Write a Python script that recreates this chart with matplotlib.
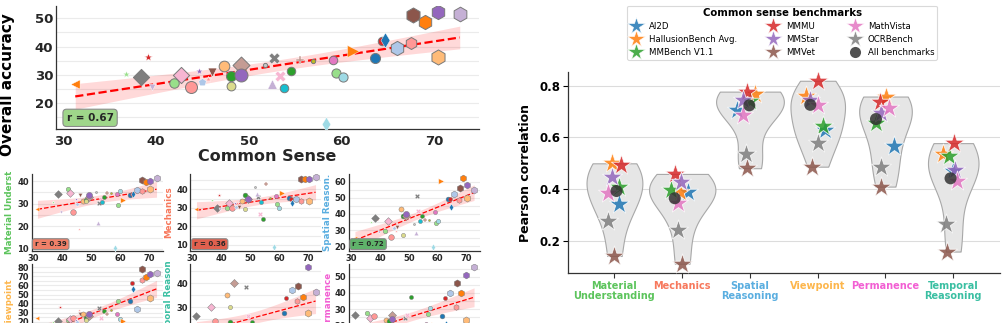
import numpy as np
import matplotlib
matplotlib.use("Agg")
import matplotlib.pyplot as plt
from matplotlib.ticker import MultipleLocator
from matplotlib.lines import Line2D

# ----------------------------- data (left figure) -----------------------------
COMMON_SENSE = [31.3, 36.8, 39.1, 38.4, 39.6, 41.9, 42.7, 43.8, 44.6, 45.0, 45.6, 46.0, 47.3, 48.1,
                48.1, 49.2, 49.2, 51.7, 52.7, 52.5, 53.3, 53.8, 54.5, 55.5, 56.9, 59.0, 59.4, 60.1,
                58.3, 61.2, 63.6, 64.3, 64.6, 65.9, 67.5, 67.7, 69.0, 70.4, 70.4, 72.7]
OVERALL = [26.8, 30.3, 36.4, 29.4, 25.6, 27.3, 30.0, 25.8, 31.4, 27.6, 28.4, 31.1, 33.1, 29.6,
           26.2, 33.5, 30.0, 33.5, 35.9, 26.8, 29.6, 25.3, 31.5, 35.3, 35.0, 35.3, 30.8, 29.4,
           12.7, 38.4, 35.9, 41.8, 42.3, 39.4, 41.4, 51.2, 48.6, 52.3, 36.4, 51.5]
MATERIAL = [27.5, 30.9, 34.2, 34.5, 26.5, 36.5, 34.6, 26.2, 31.9, 29.7, 18.7, 33.8, 31.3, 31.6,
            31.0, 32.8, 33.7, 35.3, 30.1, 21.3, 31.9, 30.9, 33.1, 34.9, 34.6, 34.3, 29.4, 35.8,
            10.6, 31.5, 33.8, 34.5, 34.3, 36.0, 35.7, 40.5, 39.4, 39.9, 36.6, 41.6]
MECHANICS = [29.4, 34.3, 36.9, 30.1, 29.4, 30.1, 32.8, 29.8, 32.5, 30.3, 32.0, 30.3, 33.7, 36.9,
             29.2, 35.0, 34.8, 41.4, 35.7, 37.3, 26.7, 33.0, 24.0, 42.9, 35.2, 36.4, 31.9, 30.1,
             8.6, 38.2, 35.2, 35.0, 32.8, 34.6, 33.7, 45.9, 45.6, 45.9, 33.9, 46.5]
SPATIAL = [25.0, 35.0, 37.0, 37.5, 29.0, 29.5, 35.5, 25.5, 31.0, 31.0, 29.5, 32.0, 43.0, 38.5,
           27.0, 39.0, 40.0, 33.5, 51.0, 28.0, 42.0, 35.5, 38.5, 36.5, 36.5, 41.0, 34.5, 35.5,
           19.5, 60.5, 49.0, 49.0, 44.5, 52.5, 48.5, 56.0, 62.5, 58.0, 50.0, 55.0]
VIEWPOINT = [24.4, 20.0, 36.6, 21.0, 8.0, 22.0, 22.5, 23.7, 22.0, 20.0, 33.0, 28.0, 29.0, 23.7,
             22.0, 26.0, 28.0, 15.0, 34.7, 6.0, 23.7, 10.0, 31.8, 28.0, 33.0, 28.5, 42.8, 23.0,
             3.0, 20.7, 43.2, 62.3, 56.0, 34.0, 66.0, 78.0, 69.7, 72.3, 45.8, 73.4]
TEMPORAL = [np.nan, np.nan, 16.0, 26.5, 14.0, 20.0, 30.0, 24.4, 18.0, 19.0, 17.0, 21.0, 35.1, 24.0,
            30.0, 40.0, 22.0, 20.0, 38.3, 15.0, 26.5, 18.0, 24.0, 21.0, 20.0, 22.0, 21.0, 22.0,
            12.0, 18.0, 27.5, 33.8, 20.0, 37.0, 32.4, 38.8, 34.4, 46.7, 27.5, 36.5]
PERMANENCE = [np.nan, np.nan, 15.0, 26.3, 14.0, 27.9, 24.6, 25.7, 18.0, 16.0, 17.0, 19.0, 23.6, 22.6,
              16.0, 26.7, 24.2, 18.0, 24.6, 13.0, 26.7, 15.0, 37.6, 20.0, 19.0, 21.0, 27.3, 30.8,
              10.0, 20.0, 25.7, 37.2, 21.0, 39.7, 31.4, 46.3, 39.7, 51.4, 23.2, 55.8]

PANEL_LABELS = ["Material Underst", "Mechanics", "Spatial Reason.",
                "Viewpoint", "Temporal Reason", "Permanence"]
PANEL_R = [0.39, 0.36, 0.72, None, None, None]
OVERALL_R = 0.67

# ----------------------------- data (right figure) ----------------------------
BENCHMARKS = ["AI2D", "HallusionBench Avg.", "MMBench V1.1", "MMMU", "MMStar", "MMVet",
              "MathVista", "OCRBench"]
CATEGORIES = ["Material\nUnderstanding", "Mechanics", "Spatial\nReasoning", "Viewpoint",
              "Permanence", "Temporal\nReasoning"]
# rows: categories; columns: benchmarks in BENCHMARKS order
CORR = [
    [0.342, 0.500, 0.410, 0.494, 0.449, 0.142, 0.387, 0.279],
    [0.391, 0.391, 0.397, 0.459, 0.427, 0.112, 0.346, 0.243],
    [0.707, 0.768, 0.740, 0.777, 0.745, 0.481, 0.688, 0.535],
    [0.627, 0.760, 0.645, 0.819, 0.745, 0.487, 0.726, 0.580],
    [0.567, 0.758, 0.655, 0.735, 0.694, 0.410, 0.713, 0.487],
    [0.470, 0.535, 0.529, 0.578, 0.475, 0.159, 0.433, 0.266],
]
ALL_BENCH = [0.393, 0.365, 0.724, 0.726, 0.671, 0.442]

# ----------------------------- styles ----------------------------------------
T20 = {"blue": "#1f77b4", "lblue": "#aec7e8", "orange": "#ff7f0e", "lorange": "#ffbb78",
       "green": "#2ca02c", "lgreen": "#98df8a", "red": "#d62728", "lred": "#ff9896",
       "purple": "#9467bd", "lpurple": "#c5b0d5", "brown": "#8c564b", "lbrown": "#c49c94",
       "pink": "#e377c2", "lpink": "#f7b6d2", "grey": "#7f7f7f", "lgrey": "#c7c7c7",
       "olive": "#bcbd22", "lolive": "#dbdb8d", "cyan": "#17becf", "lcyan": "#9edae5"}
MODEL_STYLE = [
    ("orange", "<", 70), ("lgreen", "*", 45), ("red", "*", 60), ("grey", "D", 110),
    ("lpurple", "v", 35), ("lgreen", "o", 75), ("lpink", "D", 110), ("lred", "o", 120),
    ("purple", "*", 45), ("lblue", "p", 55), ("lred", "*", 35), ("brown", "v", 65),
    ("lorange", "o", 95), ("green", "o", 85), ("lolive", "o", 65), ("lbrown", "D", 120),
    ("purple", "o", 140), ("lgrey", "o", 15), ("grey", "X", 100), ("lpurple", "^", 75),
    ("lpink", "X", 95), ("cyan", "o", 60), ("green", "o", 60), ("lbrown", "P", 60),
    ("olive", "o", 15), ("pink", "o", 60), ("lgreen", "o", 70), ("lcyan", "o", 70),
    ("lcyan", "d", 85), ("orange", ">", 120), ("blue", "o", 85), ("red", "o", 60),
    ("blue", "d", 95), ("lblue", "h", 170), ("lred", "h", 120), ("brown", "h", 190),
    ("orange", "h", 170), ("purple", "h", 170), ("lorange", "h", 190), ("lpurple", "h", 180),
]
BENCH_COLORS = ["#1f77b4", "#ff7f0e", "#2ca02c", "#d62728", "#9467bd", "#8c564b", "#e377c2", "#7f7f7f"]
CAT_COLORS = ["#5cc45c", "#f7785c", "#5aaee0", "#fdb64c", "#f25fd3", "#3abfa2"]
PANEL_COLORS = ["#5cc45c", "#f7785c", "#5aaee0", "#fdb64c", "#3abfa2", "#f25fd3"]
R_BOX_COLORS = ["#f08068", "#e0604e", "#5fb36a"]
# horizontal jitter of the stars / dot in the violin chart (x units)
JITTER = [
    [0.07, -0.04, 0.06, 0.09, -0.04, -0.01, -0.10, -0.09, 0.03],
    [0.09, -0.03, -0.17, -0.11, -0.02, 0.00, -0.06, -0.06, -0.11],
    [-0.19, 0.08, 0.00, -0.04, -0.10, -0.05, -0.11, -0.06, -0.01],
    [0.11, -0.17, 0.08, 0.01, -0.11, -0.08, 0.01, 0.01, -0.11],
    [0.13, 0.01, -0.14, -0.08, -0.06, -0.07, 0.05, -0.06, -0.14],
    [0.00, -0.15, -0.06, 0.01, 0.03, -0.09, 0.06, -0.11, -0.04],
]

W, H = 1003, 323
fig = plt.figure(figsize=(W / 100, H / 100), dpi=100)
TXT = "#262626"


def px_axes(left, top, right, bottom):
    return fig.add_axes([left / W, (H - bottom) / H, (right - left) / W, (bottom - top) / H])


def scatter_panel(ax, ys, scale, line_w, tick_fs, ylim, r_val=None, r_col=None, r_fs=7):
    xs = np.array(COMMON_SENSE, float)
    ys = np.array(ys, float)
    ok = ~np.isnan(ys)
    for i in range(len(xs)):
        if not ok[i]:
            continue
        col, mk, sz = MODEL_STYLE[i]
        if mk in ("o", "h", "D"):
            ec, lw = "#7a7a7a", 0.9 * np.sqrt(scale)
        else:
            ec, lw = "white", 0.3
        ax.scatter(xs[i], ys[i], s=sz * scale, c=T20[col], marker=mk, edgecolors=ec,
                   linewidths=lw, zorder=3)
    # regression + 95% CI
    x, y = xs[ok], ys[ok]
    n = len(x)
    b, a = np.polyfit(x, y, 1)
    grid = np.linspace(x.min(), x.max(), 100)
    pred = a + b * grid
    resid = y - (a + b * x)
    s = np.sqrt(np.sum(resid ** 2) / (n - 2))
    se = s * np.sqrt(1 / n + (grid - x.mean()) ** 2 / np.sum((x - x.mean()) ** 2))
    ax.fill_between(grid, pred - 2.02 * se, pred + 2.02 * se, color="red", alpha=0.15,
                    lw=0, zorder=1)
    ax.plot(grid, pred, color="red", ls="--", lw=line_w, zorder=2)
    ax.set_ylim(*ylim)
    ax.yaxis.set_major_locator(MultipleLocator(10))
    ax.yaxis.set_minor_locator(MultipleLocator(5))
    ax.xaxis.set_major_locator(MultipleLocator(10))
    ax.grid(axis="y", which="both", color="#ebebeb", lw=0.8, zorder=0)
    ax.set_axisbelow(True)
    for sp in ("top", "right"):
        ax.spines[sp].set_visible(False)
    for sp in ("left", "bottom"):
        ax.spines[sp].set_color("#333333")
        ax.spines[sp].set_linewidth(0.9)
    ax.tick_params(which="both", length=0, labelsize=tick_fs, colors=TXT, pad=2)
    for lab in ax.get_xticklabels() + ax.get_yticklabels():
        lab.set_fontweight("bold")
    if r_val is not None:
        ax.text(0.025, 0.05, f"r = {r_val:.2f}", transform=ax.transAxes, fontsize=r_fs,
                fontweight="bold", color=TXT, va="bottom", ha="left", zorder=5,
                bbox=dict(boxstyle="round,pad=0.35", fc=r_col, ec="#8a8a8a", lw=0.8))


# --------------------------- top (overall) panel ------------------------------
ax0 = px_axes(56, 6, 479, 129)
scatter_panel(ax0, OVERALL, 0.62, 1.6, 9.5, (10.9, 54.3), OVERALL_R, "#9fd68a", 7.5)
ax0.tick_params(axis="x", pad=4)
ax0.set_xlabel("Common Sense", fontsize=11.5, fontweight="bold", color=TXT, labelpad=1)
ax0.set_ylabel("Overall accuracy", fontsize=11, fontweight="bold", color="black")
ax0.yaxis.set_label_coords(-0.097, 0.36)

# --------------------------- small panels ------------------------------------
panel_values = [MATERIAL, MECHANICS, SPATIAL, VIEWPOINT, TEMPORAL, PERMANENCE]
panel_ylims = [(9.05, 43.15), (6.6, 48.4), (17.0, 64.8), (-1.6, 83.3), (15.8, 47.9), (10.2, 57.7)]
lefts = [31.5, 190.5, 349]
rights = [162.5, 321.5, 480]
rows = [(174, 251), (264.3, 341.3)]
for k in range(6):
    r, c = divmod(k, 3)
    ax = px_axes(lefts[c], rows[r][0], rights[c], rows[r][1])
    rv = PANEL_R[k]
    scatter_panel(ax, panel_values[k], 0.14, 0.9, 6, panel_ylims[k], rv,
                  R_BOX_COLORS[k] if rv is not None else None, 5)
    ax.set_ylabel(PANEL_LABELS[k], fontsize=6.3, fontweight="bold", color=PANEL_COLORS[k],
                  labelpad=2)
    if r == 1:
        # the lower row's x axis lies below the visible area of the figure
        ax.tick_params(axis="x", labelbottom=False)

# --------------------------- violin chart ------------------------------------
axv = px_axes(567.7, 71.7, 1000, 273.3)
corr = np.array(CORR)
dens_list = []
for ci in range(len(CATEGORIES)):
    v = corr[ci]
    g = np.linspace(v.min(), v.max(), 200)
    bw = np.std(v, ddof=1) * len(v) ** (-1 / 5)
    d = np.exp(-0.5 * ((g[:, None] - v[None, :]) / bw) ** 2).sum(1) / (len(v) * bw * np.sqrt(2 * np.pi))
    dens_list.append((g, d))
gmax = max(d.max() for _, d in dens_list)
VIOLIN_WIDTH = 1.0
for ci, (g, d) in enumerate(dens_list):
    half = d / gmax * VIOLIN_WIDTH / 2
    axv.fill_betweenx(g, ci - half, ci + half, facecolor="#e6e6e6", edgecolor="#a8a8a8",
                      lw=0.8, zorder=1)
for ci in range(len(CATEGORIES)):
    for bi in range(len(BENCHMARKS)):
        axv.scatter(ci + JITTER[ci][bi], corr[ci, bi], marker="*", s=230, c=BENCH_COLORS[bi],
                    edgecolors="white", linewidths=0.6, alpha=0.85, zorder=3)
    axv.scatter(ci + JITTER[ci][8], ALL_BENCH[ci], marker="o", s=75, c="#333333",
                alpha=0.85, edgecolors="none", zorder=4)
axv.set_xlim(-0.69, 5.69)
axv.set_ylim(0.075, 0.854)
axv.set_yticks([0.2, 0.4, 0.6, 0.8])
axv.set_xticks(range(len(CATEGORIES)))
axv.set_xticklabels(CATEGORIES, fontsize=7, fontweight="bold", linespacing=1.0)
axv.tick_params(axis="x", length=3.5, width=0.8, colors="#333333", pad=2)
axv.tick_params(axis="y", length=3.5, width=0.8, labelsize=8.5, pad=2)
for lab, col in zip(axv.get_xticklabels(), CAT_COLORS):
    lab.set_color(col)
for lab in axv.get_yticklabels():
    lab.set_fontweight("bold")
axv.set_ylabel("Pearson correlation", fontsize=9, fontweight="bold", labelpad=5)
axv.grid(axis="y", color="#dcdcdc", lw=0.8, zorder=0)
axv.set_axisbelow(True)
for sp in ("top", "right"):
    axv.spines[sp].set_visible(False)
for sp in ("left", "bottom"):
    axv.spines[sp].set_color("#333333")
    axv.spines[sp].set_linewidth(0.9)

handles = [Line2D([], [], ls="", marker="*", ms=13, color=c, mec="white", mew=0.5, alpha=0.85,
                  label=b) for b, c in zip(BENCHMARKS, BENCH_COLORS)]
handles.append(Line2D([], [], ls="", marker="o", ms=8, color="#333333", mec="none",
                      alpha=0.85, label="All benchmarks"))
leg = axv.legend(handles=handles, ncol=3, loc="upper center", bbox_to_anchor=(0.496, 1.327),
                 fontsize=6.2, title="Common sense benchmarks", frameon=True, borderpad=0.3,
                 labelspacing=0.45, handletextpad=0.8, columnspacing=3.5, handlelength=1.4,
                 borderaxespad=0.0)
leg.get_title().set_fontweight("bold")
leg.get_title().set_fontsize(7.3)
leg.get_frame().set_edgecolor("#d0d0d0")
leg.get_frame().set_linewidth(0.8)

fig.savefig("out.png", dpi=100)
